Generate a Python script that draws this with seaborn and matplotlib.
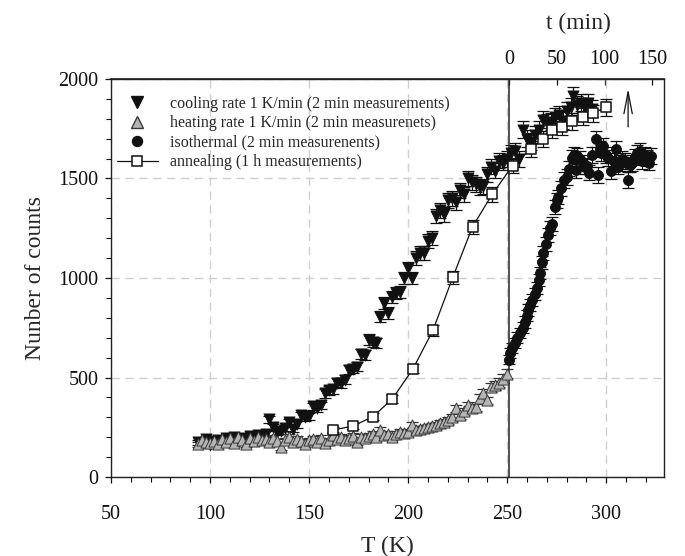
import numpy as np
import pandas as pd
import matplotlib
matplotlib.use("Agg")
import matplotlib.pyplot as plt
from matplotlib.lines import Line2D
from matplotlib.ticker import MultipleLocator
import seaborn as sns

# ---------------- data ----------------
cool_T = [94, 96, 98, 100, 102, 104, 106, 108, 110, 112, 114, 116, 118, 120, 122, 124, 126, 128,
          130, 132, 134, 136, 138, 140, 142, 144, 146, 148, 150, 152, 154, 156, 158, 160, 162, 164,
          166, 168, 170, 172, 174, 176, 178, 180, 182, 184, 186, 188, 190, 192, 194, 196, 198, 200,
          202, 204, 206, 208, 210, 212, 214, 216, 218, 220, 222, 224, 226, 228, 230, 232, 234, 236,
          238, 240, 242, 244, 246, 248, 250, 252, 254, 256, 258, 260, 262, 264, 266, 268, 270, 272,
          274, 276, 278, 280, 282, 283, 285, 287, 289, 291, 293]
cool_C = [175, 165, 190, 160, 180, 185, 175, 195, 190, 200, 185, 195, 190, 205, 200, 210, 205, 215,
          290, 250, 225, 230, 245, 275, 240, 265, 310, 300, 305, 355, 345, 360, 420, 435, 440, 475,
          470, 490, 540, 545, 555, 620, 615, 690, 680, 675, 805, 875, 825, 905, 925, 930, 1000, 1050,
          1000, 1100, 1125, 1125, 1185, 1200, 1310, 1340, 1320, 1390, 1400, 1380, 1440, 1420, 1500, 1480, 1470, 1455,
          1460, 1520, 1560, 1540, 1590, 1580, 1600, 1630, 1640, 1600, 1745, 1700, 1685, 1720, 1745, 1795, 1780, 1785,
          1810, 1820, 1790, 1840, 1860, 1915, 1870, 1880, 1860, 1880, 1850]

heat_T = [94, 96, 98, 100, 102, 104, 106, 108, 110, 112, 114, 116, 118, 120, 122, 124, 126, 128,
          130, 132, 134, 136, 138, 140, 142, 144, 146, 148, 150, 152, 154, 156, 158, 160, 162, 164,
          166, 168, 170, 172, 174, 176, 178, 180, 182, 184, 186, 188, 190, 192, 194, 196, 198, 200,
          202, 204, 206, 208, 210, 212, 214, 216, 218, 220, 222, 224, 226, 228, 230, 232, 234, 236,
          238, 240, 242, 244, 246, 248, 250]
heat_C = [165, 185, 175, 170, 180, 165, 190, 175, 195, 170, 200, 185, 165, 195, 180, 200, 185, 190,
          175, 195, 180, 150, 185, 200, 175, 190, 180, 165, 185, 190, 175, 195, 170, 185, 210, 190,
          200, 185, 195, 205, 175, 200, 195, 205, 215, 200, 235, 210, 215, 200, 215, 225, 220, 225,
          260, 235, 240, 245, 250, 255, 260, 270, 275, 285, 300, 345, 310, 330, 360, 345, 350, 395,
          420, 385, 450, 460, 475, 495, 520]

iso_T = [251, 251.5, 252.5, 254, 255, 256.6, 258, 259, 260, 260.6, 261.5, 262.6, 264, 265, 266,
         266.7, 267.5, 268, 269.5, 270.5, 271.5, 272.7, 274, 275, 275.8, 277, 278.8, 280.3, 281,
         282.8, 283.5, 284.8, 285, 286.5, 288, 289, 290.4, 291.5, 293, 295, 296, 297, 297.5, 298.5,
         300, 301, 302.5, 304, 305, 306, 307, 308, 309.6, 311, 312, 313, 314.5, 315.6, 317, 318,
         319.5, 320.7, 321.5, 322.7]
iso_C = [590, 623, 650, 673, 700, 724, 750, 779, 810, 839, 865, 889, 920, 950, 990,
         1025, 1080, 1125, 1170, 1216, 1250, 1271, 1357, 1390, 1407, 1450, 1492, 1507, 1550,
         1603, 1620, 1543, 1613, 1600, 1578, 1560, 1563, 1530, 1620, 1698, 1518, 1650, 1628, 1663,
         1620, 1603, 1538, 1590, 1648, 1560, 1578, 1600, 1588, 1492, 1570, 1578, 1610, 1628, 1640, 1588,
         1620, 1603, 1580, 1613]

ann_T = [162, 172, 182, 192, 202.5, 212.5, 222.5, 232.5, 242.4, 252.7, 262.2, 268.2, 272.6,
         277.7, 282.9, 288.1, 293.2, 299.8]
ann_C = [236, 256, 302, 392, 545, 737, 1003, 1258, 1420, 1565, 1650, 1698, 1745,
         1759, 1788, 1810, 1827, 1858]

t_ticks = [0, 50, 100, 150]
T_iso = 251.0          # temperature of isothermal run (t = 0)
K_per_min = 0.482      # top-axis scale

labels = ["cooling rate 1 K/min (2 min measurements)",
          "heating rate 1 K/min (2 min measurenets)",
          "isothermal (2 min measurenents)",
          "annealing (1 h measurements)"]

# ---------------- style ----------------
sns.set_theme(style="ticks")
plt.rcParams["font.family"] = ["Liberation Serif", "DejaVu Serif"]
plt.rcParams["axes.unicode_minus"] = False

fig = plt.figure(figsize=(6.85, 5.56), dpi=100)
ax = fig.add_axes([0.162, 0.142, 0.807, 0.716])

ax.set_xlim(50, 329)
ax.set_ylim(0, 2000)

ax.grid(True, which="major", color="#cfcfcf", linestyle=(0, (6, 4)), linewidth=1.0)
ax.set_axisbelow(True)

def frame(T, C):
    return pd.DataFrame({"T": T, "C": C, "err": np.sqrt(np.asarray(C, dtype=float))})

cool = frame(cool_T, cool_C)
heat = frame(heat_T, heat_C)
iso = frame(iso_T, iso_C)
ann = frame(ann_T, ann_C)

# error bars (Poisson counting errors)
for df, col in [(cool, "#111111"), (heat, "#333333"), (iso, "#111111"), (ann, "#111111")]:
    ax.errorbar(df["T"], df["C"], yerr=df["err"], fmt="none", ecolor=col,
                elinewidth=0.9, capsize=4.5, capthick=0.9, zorder=2)

sns.scatterplot(data=cool, x="T", y="C", marker="v", s=64, color="#111111",
                edgecolor="#111111", linewidth=0.6, ax=ax, zorder=3, legend=False)
sns.scatterplot(data=heat, x="T", y="C", marker="^", s=64, color="#b4b4b4",
                edgecolor="#3a3a3a", linewidth=0.7, ax=ax, zorder=4, legend=False)
sns.scatterplot(data=iso, x="T", y="C", marker="o", s=52, color="#111111",
                edgecolor="#111111", linewidth=0.6, ax=ax, zorder=3, legend=False)
sns.lineplot(data=ann, x="T", y="C", color="#111111", linewidth=0.9, ax=ax,
             zorder=5, legend=False, sort=False)
sns.scatterplot(data=ann, x="T", y="C", marker="s", s=56, color="white",
                edgecolor="#111111", linewidth=1.1, ax=ax, zorder=6, legend=False)

ax.axvline(T_iso, color="#222222", linewidth=1.1, zorder=2.5)

# arrow
ax.annotate("", xy=(311, 1965), xytext=(311, 1745),
            arrowprops=dict(arrowstyle="->,head_length=1.3,head_width=0.25",
                            color="#111111", lw=0.9))

# ticks
ax.xaxis.set_major_locator(MultipleLocator(50))
ax.xaxis.set_minor_locator(MultipleLocator(10))
ax.yaxis.set_major_locator(MultipleLocator(500))
ax.yaxis.set_minor_locator(MultipleLocator(100))
ax.tick_params(axis="x", which="both", direction="out", top=False, labelsize=14.5,
               colors="#111111", pad=16)
ax.tick_params(axis="y", which="both", direction="out", right=False, labelsize=14.5,
               colors="#111111", pad=5)
ax.tick_params(which="major", length=4, width=0.9)
ax.tick_params(which="minor", length=3.5, width=0.8)
for s in ax.spines.values():
    s.set_color("#222222")
    s.set_linewidth(1.0)

ax.set_xlabel("T (K)", fontsize=17, labelpad=9)
ax.set_ylabel("Nunber of counts", fontsize=17, labelpad=9)

sec = ax.secondary_xaxis("top", functions=(lambda T: (T - T_iso) / K_per_min,
                                           lambda t: T_iso + t * K_per_min))
sec.set_xticks(t_ticks)
sec.tick_params(direction="in", length=4, width=0.9, labelsize=14.5, pad=7, colors="#111111")
sec.set_xlabel("t (min)", fontsize=17, labelpad=15, x=0.845)

# legend
handles = [
    Line2D([], [], linestyle="none", marker="v", markersize=8, markerfacecolor="#111111",
           markeredgecolor="#111111"),
    Line2D([], [], linestyle="none", marker="^", markersize=8, markerfacecolor="#b4b4b4",
           markeredgecolor="#3a3a3a"),
    Line2D([], [], linestyle="none", marker="o", markersize=7.2, markerfacecolor="#111111",
           markeredgecolor="#111111"),
    Line2D([], [], color="#111111", linewidth=0.9, marker="s", markersize=7.5,
           markerfacecolor="white", markeredgecolor="#111111", markeredgewidth=1.1),
]
ax.legend(handles, labels, loc="upper left", bbox_to_anchor=(0.0, 0.972), frameon=False,
          fontsize=11.5, handlelength=2.6, handletextpad=0.75, labelspacing=0.22,
          borderaxespad=0.0, borderpad=0.35)

fig.savefig("out.png", dpi=100)
